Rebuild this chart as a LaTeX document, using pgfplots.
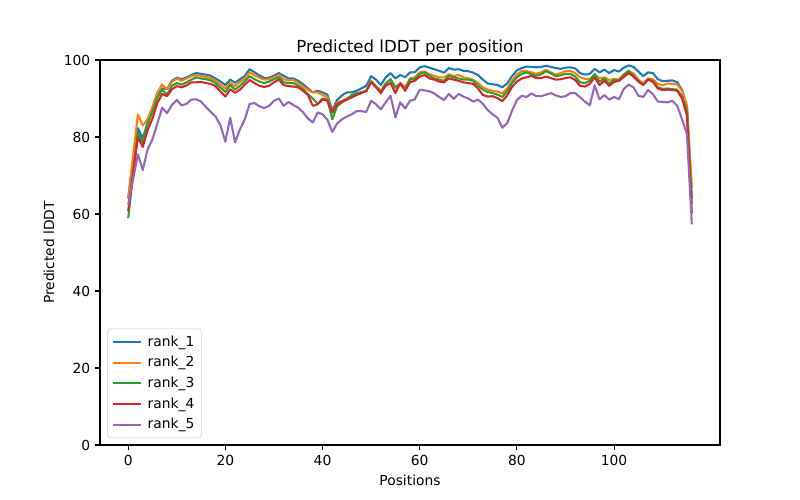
\documentclass[border=0pt]{standalone}
\usepackage{fontspec}
\setmainfont{DejaVu Sans}
\usepackage{pgfplots}
\usepackage{pgfplotstable}
\pgfplotsset{compat=1.18}

\definecolor{c0}{HTML}{1F77B4}
\definecolor{c1}{HTML}{FF7F0E}
\definecolor{c2}{HTML}{2CA02C}
\definecolor{c3}{HTML}{D62728}
\definecolor{c4}{HTML}{9467BD}

% pos rank_1 rank_2 rank_3 rank_4 rank_5
\pgfplotstableread{
pos r1 r2 r3 r4 r5
0 64.0 64.2 58.9 60.8 62.4
1 73.5 75.0 70.0 70.5 69.0
2 82.3 85.9 81.0 80.0 75.5
3 79.6 83.0 78.6 77.4 71.4
4 83.8 84.6 83.3 81.8 76.8
5 87.0 87.8 86.6 84.8 79.4
6 90.5 91.6 90.2 88.8 83.5
7 92.6 93.6 92.3 91.2 87.6
8 92.5 92.4 91.0 90.6 86.2
9 94.6 94.3 93.3 92.4 88.3
10 95.4 95.2 94.0 93.2 89.6
11 95.0 94.6 93.6 92.9 88.2
12 95.5 95.2 94.2 93.4 88.6
13 96.1 95.8 94.9 94.2 89.7
14 96.6 96.1 95.5 94.2 89.8
15 96.4 95.9 95.2 94.3 89.2
16 96.2 95.6 95.0 94.0 87.8
17 95.9 95.3 94.7 93.8 86.5
18 95.2 94.6 94.0 93.2 85.3
19 94.4 93.6 92.8 91.8 83.0
20 93.5 92.6 91.7 90.5 78.8
21 94.9 94.1 93.5 92.4 85.0
22 94.1 93.2 92.3 91.5 78.6
23 95.0 94.3 93.3 92.3 82.0
24 95.9 95.3 94.5 93.6 84.6
25 97.6 96.8 95.8 94.8 88.6
26 96.8 96.0 95.0 94.0 88.8
27 96.0 95.4 94.4 93.3 88.0
28 95.3 94.9 94.0 93.0 87.5
29 95.4 95.0 94.4 93.3 88.1
30 95.9 95.5 95.0 94.2 89.4
31 96.6 96.1 95.5 94.9 90.0
32 95.9 95.0 94.2 93.5 88.1
33 95.2 94.7 94.0 93.2 89.1
34 95.2 94.8 94.0 93.1 88.3
35 94.6 94.0 93.3 92.9 87.6
36 93.7 93.1 92.4 92.0 86.4
37 92.6 92.2 91.1 90.9 84.8
38 91.6 91.6 90.0 88.1 83.8
39 92.0 91.6 88.6 88.5 86.4
40 91.6 90.9 90.0 89.7 85.9
41 91.0 90.3 89.7 89.4 84.5
42 86.9 86.3 84.6 86.4 81.3
43 89.6 88.9 88.0 88.6 83.5
44 90.8 89.4 89.0 89.2 84.6
45 91.6 90.0 89.8 89.7 85.3
46 91.6 90.6 90.9 90.3 85.9
47 92.0 91.1 91.4 90.9 86.7
48 92.6 91.6 91.6 91.4 86.7
49 93.3 92.0 91.9 92.0 86.5
50 95.8 94.6 94.4 94.2 89.4
51 94.9 93.3 93.1 92.9 88.5
52 93.5 92.0 91.7 91.4 87.2
53 95.5 94.0 93.8 93.3 89.0
54 96.6 95.0 95.0 94.0 90.7
55 95.2 92.6 92.9 91.4 85.1
56 96.1 94.0 93.8 94.0 89.0
57 95.5 93.0 92.4 92.0 87.4
58 96.8 95.2 95.0 94.2 89.4
59 96.8 95.5 95.0 94.6 89.8
60 98.1 96.8 96.4 95.7 92.3
61 98.4 97.0 96.8 96.1 92.1
62 98.0 96.3 95.9 95.2 91.9
63 97.6 95.9 95.2 94.9 91.3
64 97.2 95.5 94.9 94.4 90.4
65 96.7 95.5 94.6 94.2 89.6
66 97.9 96.3 95.9 95.2 91.2
67 97.5 95.8 95.5 94.9 89.9
68 97.6 96.1 95.2 94.6 91.2
69 97.2 95.5 94.9 94.2 90.5
70 97.1 95.2 94.9 94.0 90.0
71 96.7 94.9 94.6 93.8 89.2
72 96.1 94.0 93.3 92.6 89.7
73 94.9 92.9 92.3 90.9 88.6
74 93.9 92.3 91.7 90.5 87.0
75 93.7 92.0 91.4 90.6 85.9
76 93.5 91.8 91.0 90.1 85.0
77 92.9 91.3 90.4 89.3 82.4
78 93.9 92.6 91.9 90.8 83.6
79 95.8 94.6 94.0 93.0 86.8
80 97.3 96.2 95.5 94.4 89.6
81 97.9 97.1 96.4 95.2 90.7
82 98.3 97.1 96.8 95.5 90.4
83 98.2 96.8 96.3 95.9 91.3
84 98.1 96.4 95.9 95.3 90.6
85 98.2 96.8 96.3 95.3 90.6
86 98.5 97.4 97.1 95.7 91.0
87 98.2 96.8 96.5 95.3 91.4
88 97.9 96.2 95.8 94.9 90.8
89 97.7 96.6 96.0 95.0 90.4
90 98.0 97.1 96.4 95.3 90.6
91 98.1 97.2 96.4 95.5 91.4
92 97.8 96.6 95.7 94.8 91.4
93 96.6 95.5 94.2 93.3 90.3
94 96.2 95.1 94.0 93.1 89.2
95 96.4 95.0 94.6 93.8 88.2
96 97.7 96.1 96.4 95.5 93.4
97 96.8 95.3 94.4 93.5 89.8
98 97.5 95.5 95.2 94.6 90.9
99 96.6 94.8 93.8 93.3 89.7
100 97.4 95.1 94.9 94.3 90.4
101 97.0 95.0 94.6 94.6 89.8
102 98.0 96.2 96.2 95.6 92.5
103 98.6 97.0 97.2 96.6 93.6
104 98.2 96.5 96.0 95.7 92.9
105 97.0 94.9 94.6 94.4 90.7
106 95.8 93.9 93.5 93.5 90.4
107 96.8 95.2 94.9 95.0 92.2
108 96.6 95.0 94.6 94.3 91.1
109 95.0 93.8 92.9 92.6 89.2
110 94.5 93.4 92.5 92.2 89.1
111 94.6 93.9 92.6 92.3 89.0
112 94.7 93.8 92.4 92.2 89.4
113 94.2 93.6 92.3 92.0 88.1
114 92.2 92.0 90.5 90.0 84.6
115 87.8 88.3 86.8 85.5 80.7
116 64.2 67.0 62.5 60.3 57.3
}\lddt

\begin{document}
\begin{tikzpicture}
\begin{axis}[
    scale only axis,
    width=6.2in, height=3.85in,
    xmin=-5.8, xmax=121.8,
    ymin=0, ymax=100,
    xtick={0,20,40,60,80,100},
    ytick={0,20,40,60,80,100},
    xtick pos=bottom, ytick pos=left,
    tick align=outside,
    major tick length=3.5pt,
    tick style={black, line width=0.8pt},
    axis line style={line width=0.8pt},
    ticklabel style={font=\fontsize{10}{12}\selectfont},
    /pgf/number format/assume math mode=true,
    xlabel={Positions},
    ylabel={Predicted lDDT},
    label style={font=\fontsize{10}{12}\selectfont},
    title={Predicted lDDT per position},
    title style={font=\fontsize{12}{14}\selectfont, yshift=-6.5pt},
    legend style={at={(0.012,0.018)}, anchor=south west, draw=black!20,
        rounded corners=2pt, font=\fontsize{10}{12}\selectfont,
        row sep=1.8pt, inner sep=3pt},
    legend cell align=left,
    legend image code/.code={\draw[#1] (0in,0in) -- (0.28in,0in);
        \path (0.31in,0in);},
    every axis plot/.append style={line width=1.5pt, line join=round},
]
\addplot[c0] table[x=pos, y=r1] {\lddt};
\addplot[c1] table[x=pos, y=r2] {\lddt};
\addplot[c2] table[x=pos, y=r3] {\lddt};
\addplot[c3] table[x=pos, y=r4] {\lddt};
\addplot[c4] table[x=pos, y=r5] {\lddt};
\legend{rank\_1, rank\_2, rank\_3, rank\_4, rank\_5}
\end{axis}
\pgfresetboundingbox
\path[use as bounding box] ([shift={(-1in,-0.55in)}]current axis.south west)
    rectangle ([shift={(0.8in,0.6in)}]current axis.north east);
\end{tikzpicture}
\end{document}
